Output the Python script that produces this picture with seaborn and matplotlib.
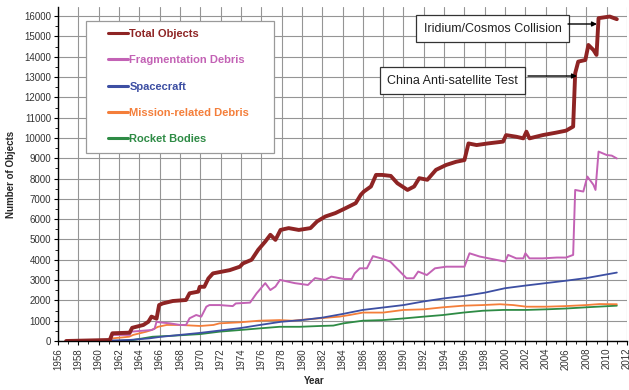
import matplotlib
matplotlib.use("Agg")
import matplotlib.pyplot as plt
from matplotlib.lines import Line2D
from matplotlib.patches import Rectangle
import pandas as pd
import seaborn as sns

# ---------------- data ----------------
total_years = [1956.8, 1961.1, 1961.35, 1963.05, 1963.3, 1964.4, 1964.9, 1965.2, 1965.7, 1965.95,
               1966.3, 1967.3, 1968.6, 1968.95, 1969.8, 1969.95, 1970.4, 1970.8, 1971.25, 1972.9,
               1973.9, 1974.2, 1975.05, 1975.7, 1976.4, 1976.9, 1977.4, 1977.9, 1978.7, 1979.7,
               1980.85, 1981.5, 1982.3, 1983.3, 1984.3, 1985.3, 1985.8, 1986.1, 1986.8, 1987.3,
               1987.9, 1988.75, 1989.4, 1990.4, 1991.05, 1991.55, 1992.35, 1993.2, 1994.2, 1995.2,
               1996.0, 1996.4, 1997.2, 1998.3, 1999.8, 2000.1, 2001.1, 2001.8, 2002.1, 2002.4,
               2003.7, 2005.0, 2006.0, 2006.7, 2006.9, 2007.2, 2007.9, 2008.2, 2008.7, 2009.0,
               2009.2, 2010.3, 2011.0]
total_vals = [0, 50, 380, 410, 650, 790, 950, 1200, 1100, 1770,
              1850, 1970, 2020, 2350, 2430, 2670, 2670, 3080, 3330, 3490,
              3660, 3820, 4000, 4490, 4900, 5230, 4980, 5470, 5560, 5470,
              5560, 5890, 6130, 6300, 6540, 6790, 7200, 7360, 7610, 8180,
              8180, 8130, 7770, 7440, 7610, 8020, 7940, 8430, 8670, 8830,
              8910, 9730, 9650, 9730, 9820, 10140, 10060, 9980, 10310, 9980,
              10140, 10260, 10360, 10560, 13190, 13760, 13840, 14580, 14330, 14090,
              15900, 15980, 15850]

frag_years = [1956.8, 1961.2, 1961.35, 1963.05, 1963.2, 1965.2, 1965.5, 1965.7, 1966.0, 1967.0,
              1968.0, 1968.6, 1968.95, 1969.6, 1970.1, 1970.6, 1970.9, 1971.9, 1973.2, 1973.5,
              1974.9, 1975.55, 1976.4, 1976.9, 1977.4, 1977.85, 1979.3, 1980.6, 1981.3, 1982.3,
              1982.9, 1984.2, 1984.9, 1985.2, 1985.7, 1986.4, 1987.0, 1987.8, 1988.7, 1989.5,
              1990.3, 1991.0, 1991.45, 1992.3, 1993.1, 1994.2, 1996.0, 1996.5, 1997.5, 1999.2,
              2000.0, 2000.3, 2001.1, 2001.8, 2002.0, 2002.4, 2003.7, 2005.1, 2006.0, 2006.7,
              2006.9, 2007.7, 2008.1, 2008.7, 2008.9, 2009.2, 2010.0, 2010.5, 2011.0]
frag_vals = [0, 30, 300, 300, 460, 540, 600, 950, 920, 870,
             790, 790, 1120, 1280, 1200, 1690, 1770, 1770, 1720, 1850,
             1890, 2350, 2850, 2510, 2680, 3010, 2850, 2760, 3100, 3010,
             3170, 3050, 3050, 3330, 3580, 3580, 4180, 4070, 3910, 3500,
             3090, 3090, 3420, 3250, 3580, 3660, 3660, 4320, 4160, 3990,
             3910, 4240, 4070, 4070, 4320, 4070, 4070, 4110, 4110, 4240,
             7440, 7360, 8100, 7690, 7440, 9330, 9160, 9130, 8990]

sc_years = [1957, 1961, 1963, 1965, 1966, 1968, 1970, 1972, 1974, 1976, 1978, 1980, 1982, 1984,
            1986, 1988, 1990, 1992, 1994, 1996, 1998, 2000, 2002, 2004, 2006, 2008, 2011]
sc_vals = [0, 20, 50, 130, 200, 300, 400, 520, 640, 800, 950, 1030, 1150, 1330,
           1530, 1650, 1770, 1950, 2100, 2220, 2380, 2600, 2730, 2850, 2970, 3100, 3370]

mrd_years = [1956.8, 1961.2, 1961.35, 1963.0, 1963.4, 1964.7, 1965.2, 1965.85, 1966.7, 1968.0,
             1970.0, 1971.3, 1971.9, 1973.9, 1975.8, 1977.8, 1979.1, 1979.8, 1981.8, 1983.7,
             1984.7, 1986.0, 1988.0, 1990.0, 1992.0, 1993.9, 1995.9, 1997.8, 1999.5, 2000.8,
             2002.1, 2004.1, 2006.0, 2008.0, 2009.3, 2011.0]
mrd_vals = [0, 30, 130, 210, 300, 460, 540, 700, 790, 790,
            740, 790, 870, 920, 1000, 1030, 1000, 1035, 1120, 1200,
            1280, 1400, 1400, 1530, 1560, 1660, 1740, 1770, 1810, 1770,
            1690, 1690, 1720, 1770, 1820, 1810]

rb_years = [1956.8, 1962.0, 1963.4, 1965.3, 1967.3, 1970.0, 1971.9, 1973.9, 1975.8, 1977.8,
            1979.8, 1981.8, 1983.1, 1984.1, 1986.0, 1988.0, 1990.0, 1992.0, 1993.9, 1995.9,
            1997.8, 1999.8, 2002.1, 2004.1, 2006.0, 2008.0, 2011.0]
rb_vals = [0, 10, 50, 210, 260, 340, 460, 540, 620, 700,
           700, 740, 760, 870, 1000, 1030, 1110, 1200, 1280, 1400,
           1490, 1530, 1530, 1560, 1600, 1660, 1740]

series_names = ["Total Objects", "Fragmentation Debris", "Spacecraft",
                "Mission-related Debris", "Rocket Bodies"]
year_ticks = list(range(1956, 2013, 2))
value_ticks = list(range(0, 16001, 1000))
annotations = ["Iridium/Cosmos Collision", "China Anti-satellite Test"]

# ---------------- styling ----------------
colors = {"Total Objects": "#8E2424", "Fragmentation Debris": "#C362B5",
          "Spacecraft": "#3D4FA3", "Mission-related Debris": "#F47E3A",
          "Rocket Bodies": "#2E8B45"}
widths = {"Total Objects": 2.8, "Fragmentation Debris": 1.4, "Spacecraft": 1.3,
          "Mission-related Debris": 1.3, "Rocket Bodies": 1.3}

frames = []
for name, yrs, vals in zip(series_names,
                           [total_years, frag_years, sc_years, mrd_years, rb_years],
                           [total_vals, frag_vals, sc_vals, mrd_vals, rb_vals]):
    frames.append(pd.DataFrame({"Year": yrs, "Objects": vals, "Series": name}))
df = pd.concat(frames, ignore_index=True)

sns.set_theme(style="white")
plt.rcParams["font.family"] = ["Liberation Sans", "DejaVu Sans"]

W, H = 629, 390
fig = plt.figure(figsize=(W / 100, H / 100), dpi=100)
L, R, B, T = 58, 627, 341, 7
ax = fig.add_axes([L / W, 1 - B / H, (R - L) / W, (B - T) / H])

# draw rocket bodies first so the total is on top
for name in reversed(series_names):
    sns.lineplot(data=df[df["Series"] == name], x="Year", y="Objects",
                 color=colors[name], linewidth=widths[name],
                 estimator=None, sort=False, ax=ax, legend=False)

ax.set_xlim(1956, 2012)
ax.set_ylim(0, 16450)
ax.set_xticks(year_ticks)
ax.set_xticklabels([str(y) for y in year_ticks], rotation=90, fontsize=7, color="#333333")
ax.set_xticks(list(range(1956, 2013)), minor=True)
ax.set_yticks(value_ticks)
ax.set_yticklabels([str(v) for v in value_ticks], fontsize=7, color="#333333")
ax.set_yticks(list(range(500, 16500, 1000)), minor=True)
ax.tick_params(axis="both", which="major", length=3, width=0.8, color="black",
               direction="out", pad=2, bottom=True, left=True)
ax.tick_params(axis="both", which="minor", length=2, width=0.6, color="black",
               direction="out", bottom=True, left=True)
ax.grid(True, which="major", color="#959595", linewidth=0.8)
ax.set_axisbelow(True)
for s in ["top", "right"]:
    ax.spines[s].set_visible(False)
for s in ["left", "bottom"]:
    ax.spines[s].set_color("black")
    ax.spines[s].set_linewidth(1.0)

ax.set_xlabel("Year", fontsize=7, fontweight="bold")
ax.set_ylabel("Number of Objects", fontsize=7, fontweight="bold", labelpad=6)
ax.xaxis.set_label_coords((314 - L) / (R - L), (B - 376) / (B - T))


def ax_frac(px, py):
    return (px - L) / (R - L), (B - py) / (B - T)


# legend box
bx0, by0 = ax_frac(86, 153)
bx1, by1 = ax_frac(274, 21)
ax.add_patch(Rectangle((bx0, by0), bx1 - bx0, by1 - by0, transform=ax.transAxes,
                       facecolor="white", edgecolor="#9a9a9a", linewidth=0.9, zorder=4))
handles = [Line2D([0], [0], color=colors[n], linewidth=2.2) for n in series_names]
ax_, ay_ = ax_frac(108, 29)
leg = ax.legend(handles, series_names, loc="upper left", bbox_to_anchor=(ax_, ay_),
                frameon=False, borderpad=0, borderaxespad=0, handlelength=1.8,
                handletextpad=0.12, labelspacing=1.47,
                prop={"family": "Liberation Sans", "weight": "bold", "size": 8})
leg.set_zorder(5)
for txt, n in zip(leg.get_texts(), series_names):
    txt.set_color(colors[n])


# annotations
def data_from_px(px, py):
    return 1956 + (px - L) / (R - L) * 56, (B - py) / (B - T) * 16450


boxes = [((492.5, 29), (568, 24), (597, 24)), ((452.5, 81), (528, 76), (577, 76))]
for label, (c, a0, a1) in zip(annotations, boxes):
    cx, cy = data_from_px(*c)
    ax.text(cx, cy, label, ha="center", va="center", fontsize=9, color="#222222",
            zorder=6, bbox=dict(boxstyle="square,pad=0.6", facecolor="white",
                                edgecolor="#333333", linewidth=0.9))
    ax.annotate("", xy=data_from_px(*a1), xytext=data_from_px(*a0),
                arrowprops=dict(arrowstyle="-|>", color="black", lw=1.0,
                                mutation_scale=7, shrinkA=0, shrinkB=0), zorder=6)

fig.savefig("out.png", dpi=100)
